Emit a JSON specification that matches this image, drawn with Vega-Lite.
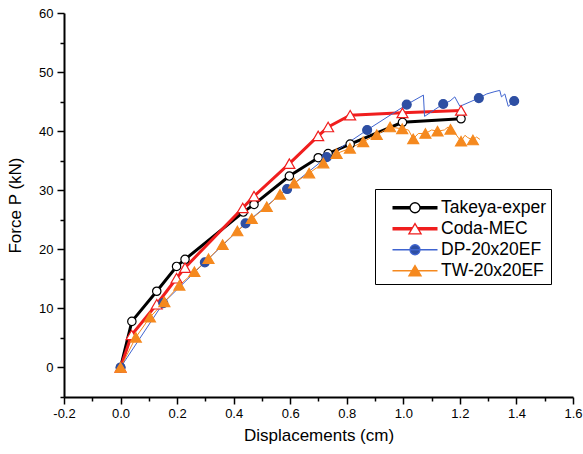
{
  "$schema": "https://vega.github.io/schema/vega-lite/v6.json",
  "width": 509,
  "height": 384,
  "autosize": {"type": "none"},
  "padding": {"left": 64, "top": 13, "right": 10, "bottom": 57},
  "background": "white",
  "config": {
    "view": {"stroke": null},
    "font": "Liberation Sans",
    "axis": {
      "grid": false,
      "domainColor": "black",
      "domainWidth": 2,
      "tickColor": "black",
      "tickWidth": 1.5,
      "labelFont": "Liberation Sans",
      "labelFontSize": 13,
      "labelColor": "black",
      "titleFont": "Liberation Sans",
      "titleFontSize": 17,
      "titleFontWeight": "normal",
      "titleColor": "black",
      "labelOverlap": false,
      "labelFlush": false
    }
  },
  "data": {
    "values": [
      {"s": "Takeya-exper", "x": 0, "y": 0, "m": 1},
      {"s": "Takeya-exper", "x": 0.04, "y": 7.8, "m": 1},
      {"s": "Takeya-exper", "x": 0.128, "y": 12.9, "m": 1},
      {"s": "Takeya-exper", "x": 0.198, "y": 17.1, "m": 1},
      {"s": "Takeya-exper", "x": 0.228, "y": 18.3, "m": 1},
      {"s": "Takeya-exper", "x": 0.434, "y": 26.3, "m": 1},
      {"s": "Takeya-exper", "x": 0.472, "y": 27.6, "m": 1},
      {"s": "Takeya-exper", "x": 0.597, "y": 32.4, "m": 1},
      {"s": "Takeya-exper", "x": 0.699, "y": 35.5, "m": 1},
      {"s": "Takeya-exper", "x": 0.734, "y": 36.2, "m": 1},
      {"s": "Takeya-exper", "x": 0.812, "y": 37.8, "m": 1},
      {"s": "Takeya-exper", "x": 0.997, "y": 41.5, "m": 1},
      {"s": "Takeya-exper", "x": 1.204, "y": 42.1, "m": 1},
      {"s": "Coda-MEC", "x": 0, "y": 0, "m": 1},
      {"s": "Coda-MEC", "x": 0.039, "y": 5.5, "m": 1},
      {"s": "Coda-MEC", "x": 0.128, "y": 10.7, "m": 1},
      {"s": "Coda-MEC", "x": 0.198, "y": 15.1, "m": 1},
      {"s": "Coda-MEC", "x": 0.228, "y": 16.9, "m": 1},
      {"s": "Coda-MEC", "x": 0.432, "y": 27.0, "m": 1},
      {"s": "Coda-MEC", "x": 0.472, "y": 29.0, "m": 1},
      {"s": "Coda-MEC", "x": 0.597, "y": 34.5, "m": 1},
      {"s": "Coda-MEC", "x": 0.699, "y": 39.2, "m": 1},
      {"s": "Coda-MEC", "x": 0.734, "y": 40.7, "m": 1},
      {"s": "Coda-MEC", "x": 0.812, "y": 42.7, "m": 1},
      {"s": "Coda-MEC", "x": 0.997, "y": 43.1, "m": 1},
      {"s": "Coda-MEC", "x": 1.204, "y": 43.5, "m": 1},
      {"s": "DP-20x20EF", "x": 0, "y": 0, "m": 1},
      {"s": "DP-20x20EF", "x": 0.151, "y": 10.9, "m": 1},
      {"s": "DP-20x20EF", "x": 0.298, "y": 17.8, "m": 1},
      {"s": "DP-20x20EF", "x": 0.442, "y": 24.4, "m": 1},
      {"s": "DP-20x20EF", "x": 0.589, "y": 30.2, "m": 1},
      {"s": "DP-20x20EF", "x": 0.729, "y": 35.6, "m": 1},
      {"s": "DP-20x20EF", "x": 0.872, "y": 40.2, "m": 1},
      {"s": "DP-20x20EF", "x": 1.012, "y": 44.5, "m": 1},
      {"s": "DP-20x20EF", "x": 1.071, "y": 46.1, "m": 0},
      {"s": "DP-20x20EF", "x": 1.075, "y": 42.5, "m": 0},
      {"s": "DP-20x20EF", "x": 1.141, "y": 44.6, "m": 1},
      {"s": "DP-20x20EF", "x": 1.165, "y": 45.1, "m": 0},
      {"s": "DP-20x20EF", "x": 1.182, "y": 45.8, "m": 0},
      {"s": "DP-20x20EF", "x": 1.2, "y": 44.2, "m": 0},
      {"s": "DP-20x20EF", "x": 1.267, "y": 45.6, "m": 1},
      {"s": "DP-20x20EF", "x": 1.295, "y": 46.3, "m": 0},
      {"s": "DP-20x20EF", "x": 1.324, "y": 46.7, "m": 0},
      {"s": "DP-20x20EF", "x": 1.341, "y": 46.9, "m": 0},
      {"s": "DP-20x20EF", "x": 1.347, "y": 45.8, "m": 0},
      {"s": "DP-20x20EF", "x": 1.359, "y": 46.3, "m": 0},
      {"s": "DP-20x20EF", "x": 1.371, "y": 44.2, "m": 0},
      {"s": "DP-20x20EF", "x": 1.392, "y": 45.1, "m": 1},
      {"s": "TW-20x20EF", "x": 0, "y": 0, "m": 1},
      {"s": "TW-20x20EF", "x": 0.054, "y": 5.1, "m": 1},
      {"s": "TW-20x20EF", "x": 0.104, "y": 8.5, "m": 1},
      {"s": "TW-20x20EF", "x": 0.155, "y": 11.1, "m": 1},
      {"s": "TW-20x20EF", "x": 0.208, "y": 13.9, "m": 1},
      {"s": "TW-20x20EF", "x": 0.261, "y": 16.2, "m": 1},
      {"s": "TW-20x20EF", "x": 0.311, "y": 18.4, "m": 1},
      {"s": "TW-20x20EF", "x": 0.361, "y": 20.8, "m": 1},
      {"s": "TW-20x20EF", "x": 0.413, "y": 23.1, "m": 1},
      {"s": "TW-20x20EF", "x": 0.464, "y": 25.2, "m": 1},
      {"s": "TW-20x20EF", "x": 0.517, "y": 27.2, "m": 1},
      {"s": "TW-20x20EF", "x": 0.564, "y": 29.3, "m": 1},
      {"s": "TW-20x20EF", "x": 0.614, "y": 31.2, "m": 1},
      {"s": "TW-20x20EF", "x": 0.667, "y": 32.9, "m": 1},
      {"s": "TW-20x20EF", "x": 0.717, "y": 34.6, "m": 1},
      {"s": "TW-20x20EF", "x": 0.764, "y": 36.2, "m": 1},
      {"s": "TW-20x20EF", "x": 0.811, "y": 37.1, "m": 1},
      {"s": "TW-20x20EF", "x": 0.858, "y": 38.2, "m": 1},
      {"s": "TW-20x20EF", "x": 0.906, "y": 39.4, "m": 1},
      {"s": "TW-20x20EF", "x": 0.953, "y": 40.7, "m": 1},
      {"s": "TW-20x20EF", "x": 0.996, "y": 40.4, "m": 1},
      {"s": "TW-20x20EF", "x": 1.018, "y": 40.2, "m": 0},
      {"s": "TW-20x20EF", "x": 1.035, "y": 38.7, "m": 1},
      {"s": "TW-20x20EF", "x": 1.053, "y": 39.6, "m": 0},
      {"s": "TW-20x20EF", "x": 1.078, "y": 39.6, "m": 1},
      {"s": "TW-20x20EF", "x": 1.1, "y": 40.2, "m": 0},
      {"s": "TW-20x20EF", "x": 1.121, "y": 40.0, "m": 1},
      {"s": "TW-20x20EF", "x": 1.145, "y": 40.2, "m": 0},
      {"s": "TW-20x20EF", "x": 1.158, "y": 40.7, "m": 0},
      {"s": "TW-20x20EF", "x": 1.167, "y": 40.3, "m": 1},
      {"s": "TW-20x20EF", "x": 1.185, "y": 39.5, "m": 0},
      {"s": "TW-20x20EF", "x": 1.204, "y": 38.3, "m": 1},
      {"s": "TW-20x20EF", "x": 1.218, "y": 39.3, "m": 0},
      {"s": "TW-20x20EF", "x": 1.228, "y": 38.9, "m": 0},
      {"s": "TW-20x20EF", "x": 1.246, "y": 38.5, "m": 1},
      {"s": "TW-20x20EF", "x": 1.259, "y": 39.0, "m": 0},
      {"s": "TW-20x20EF", "x": 1.271, "y": 38.6, "m": 0}
    ]
  },
  "encoding": {
    "x": {
      "field": "x",
      "type": "quantitative",
      "scale": {"domain": [-0.2, 1.6], "nice": false, "zero": false},
      "axis": {
        "title": "Displacements (cm)",
        "values": [-0.2, -0.1, 0, 0.1, 0.2, 0.3, 0.4, 0.5, 0.6, 0.7, 0.8, 0.9, 1.0, 1.1, 1.2, 1.3, 1.4, 1.5, 1.6],
        "labelExpr": "abs(round(datum.value*10)) % 2 == 0 ? (datum.value < 0 ? '-' + format(-datum.value, '.1f') : format(datum.value, '.1f')) : ''",
        "tickSize": {"condition": {"test": "abs(round(datum.value*10)) % 2 == 0", "value": 7}, "value": 4},
        "labelPadding": 3,
        "titlePadding": 7
      }
    },
    "y": {
      "field": "y",
      "type": "quantitative",
      "scale": {"domain": [-5, 60], "nice": false, "zero": false},
      "axis": {
        "title": "Force P (kN)",
        "values": [-5, 0, 5, 10, 15, 20, 25, 30, 35, 40, 45, 50, 55, 60],
        "labelExpr": "abs(round(datum.value)) % 10 == 0 ? format(datum.value, 'd') : ''",
        "tickSize": {"condition": {"test": "abs(round(datum.value)) % 10 == 0", "value": 7}, "value": 4},
        "labelPadding": 4,
        "titlePadding": 14
      }
    }
  },
  "layer": [
    {
      "mark": {"type": "line", "interpolate": "linear"},
      "encoding": {
        "color": {
          "field": "s",
          "type": "nominal",
          "scale": {"domain": ["Takeya-exper", "Coda-MEC", "DP-20x20EF", "TW-20x20EF"], "range": ["#000000", "#f01e1e", "#3f64d0", "#f5891f"]},
          "legend": {
            "orient": "none",
            "legendX": 311,
            "legendY": 176,
            "title": " ",
            "titleFontSize": 1,
            "titlePadding": 5,
            "padding": 4,
            "strokeColor": "black",
            "fillColor": "white",
            "labelFont": "Liberation Sans",
            "labelFontSize": 17.5,
            "labelColor": "black",
            "symbolSize": 100,
            "rowPadding": 2,
            "encode": {
              "symbols": {
                "update": {
                  "x": {"value": 36},
                  "shape": {"signal": "datum.value == 'Takeya-exper' ? 'M-4.5,-0.2H-1M-4.5,0H-1M-4.5,0.2H-1M1,-0.2H4.5M1,0H4.5M1,0.2H4.5M1,0C1,0.5523 0.5523,1 0,1C-0.5523,1 -1,0.5523 -1,0C-1,-0.5523 -0.5523,-1 0,-1C0.5523,-1 1,-0.5523 1,0Z' : datum.value == 'Coda-MEC' ? 'M-4.5,-0.2H-0.49M-4.5,0H-0.61M-4.5,0.2H-0.73M0.49,-0.2H4.5M0.61,0H4.5M0.73,0.2H4.5M0,-1.04L1.22,1.04L-1.22,1.04Z' : datum.value == 'DP-20x20EF' ? 'M-4.5,0H4.5M1,0C1,0.5523 0.5523,1 0,1C-0.5523,1 -1,0.5523 -1,0C-1,-0.5523 -0.5523,-1 0,-1C0.5523,-1 1,-0.5523 1,0Z' : 'M-4.5,0H4.5M0,-1.04L1.22,1.04L-1.22,1.04Z'"},
                  "fill": {"signal": "datum.value == 'DP-20x20EF' ? '#2e4fa3' : datum.value == 'TW-20x20EF' ? '#f5891f' : 'white'"},
                  "strokeWidth": {"value": 1.3},
                  "size": {"value": 100},
                  "opacity": {"value": 1},
                  "fillOpacity": {"value": 1},
                  "strokeOpacity": {"value": 1}
                }
              },
              "labels": {
                "update": {
                  "x": {"value": 62}
                }
              }
            }
          }
        },
        "strokeWidth": {
          "field": "s",
          "type": "nominal",
          "scale": {"type": "ordinal", "range": [3, 1, 1, 3]},
          "legend": null
        }
      }
    },
    {
      "transform": [{"filter": "datum.m == 1"}],
      "mark": {"type": "point", "opacity": 1, "strokeWidth": 1.2},
      "encoding": {
        "shape": {
          "field": "s",
          "type": "nominal",
          "scale": {"range": ["triangle-up", "circle", "triangle-up", "circle"]},
          "legend": null
        },
        "fill": {
          "field": "s",
          "type": "nominal",
          "scale": {"range": ["#ffffff", "#2e4fa3", "#f5891f", "#ffffff"]},
          "legend": null
        },
        "stroke": {
          "field": "s",
          "type": "nominal",
          "scale": {"range": ["#f01e1e", "#2e4fa3", "#f5891f", "#000000"]},
          "legend": null
        },
        "size": {
          "field": "s",
          "type": "nominal",
          "scale": {"type": "ordinal", "range": [120, 80, 120, 70]},
          "legend": null
        }
      }
    }
  ]
}
